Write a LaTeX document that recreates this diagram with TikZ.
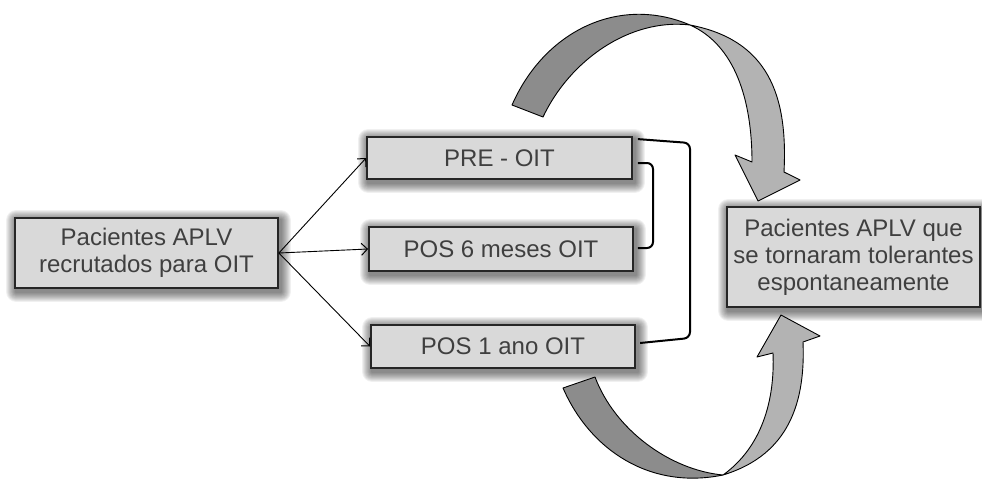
\documentclass[tikz,border=0pt]{standalone}
\usepackage{fontspec}
\setmainfont{Liberation Sans}
\usetikzlibrary{backgrounds,calc,arrows.meta}
\definecolor{boxfill}{HTML}{D9D9D9}
\definecolor{boxline}{HTML}{262626}
\definecolor{txt}{HTML}{3F3F3F}
\definecolor{banddark}{HTML}{8C8C8C}
\definecolor{bandlight}{HTML}{B3B3B3}
\tikzset{
  box/.style={draw=boxline, line width=1.8pt, fill=boxfill, text=txt,
    align=center, inner sep=0pt,
    font=\fontsize{24}{27}\selectfont},
  link/.style={draw=black, line width=0.9pt,
    -{Straight Barb[length=6pt,width=12pt,line width=1pt]}},
  bracket/.style={draw=black, line width=2pt, rounded corners=6pt},
  band/.style={draw=black, line width=0.9pt, line join=round},
}
% soft halo behind a node
\newcommand{\halo}[1]{%
  \begin{pgfonlayer}{background}
    \foreach \k in {1,...,10}{
      \fill[black, opacity=0.06, rounded corners=\k pt]
        ($(#1.north west)+(-\k+2,-\k+3)$) rectangle ($(#1.south east)+(\k+2,\k+3)$);
    }
  \end{pgfonlayer}}
\begin{document}
\begin{tikzpicture}[x=1pt,y=-1pt]
\useasboundingbox (0,0) rectangle (982,479);

% boxes
\node[box, minimum width=263pt, minimum height=70pt] (src) at (146.5,253)
  {Pacientes APLV\\recrutados para OIT};
\node[box, minimum width=265pt, minimum height=42pt] (pre) at (499.5,158) {PRE - OIT};
\node[box, minimum width=264pt, minimum height=44pt] (pos6) at (501,249) {POS 6 meses OIT};
\node[box, minimum width=264pt, minimum height=43pt] (pos1) at (503,346.5) {POS 1 ano OIT};
\node[box, minimum width=253pt, minimum height=100pt] (tol) at (853.5,257)
  {Pacientes APLV que\\se tornaram tolerantes\\espontaneamente};

\halo{src}\halo{pre}\halo{pos6}\halo{pos1}\halo{tol}

% connectors from the recruited group
\draw[link] (src.east) -- (pre.west);
\draw[link] (src.east) -- (pos6.west);
\draw[link] (src.east) -- (pos1.west);

% brackets grouping the time points
\coordinate (ot) at (690,143);
\coordinate (ob) at (690,338);
\draw[bracket] ($(pre.north east)+(5,3)$) -- (ot) -- (ob) -- ($(pos1.west|-0,343)+(270,0)$);
\draw[bracket] ($(pre.east)+(5,5)$) -- (653,163) -- (653,248) -- ($(pos6.east)+(4,-1)$);

% upper curved arrow: dark tail half
\fill[banddark, band] (512,105) .. controls (545,30) and (620,-5) .. (690,25)
  .. controls (630,18) and (570,60) .. (543,117) -- cycle;
% upper curved arrow: light half with head
\fill[bandlight, band] (690,25) .. controls (735,45) and (752,100) .. (752,162)
  -- (735,155) -- (758,201) -- (800,180) -- (784,172)
  .. controls (788,95) and (768,40) .. (690,25) -- cycle;

% lower curved arrow: dark tail half
\fill[banddark, band] (563,388) .. controls (590,450) and (650,490) .. (723,475)
  .. controls (670,470) and (615,430) .. (595,377) -- cycle;
% lower curved arrow: light half with head
\fill[bandlight, band] (723,475) .. controls (762,447) and (775,400) .. (773,353)
  -- (757,357) -- (781,315) -- (820,336) -- (803,342)
  .. controls (806,412) and (782,457) .. (723,475) -- cycle;
\end{tikzpicture}
\end{document}
